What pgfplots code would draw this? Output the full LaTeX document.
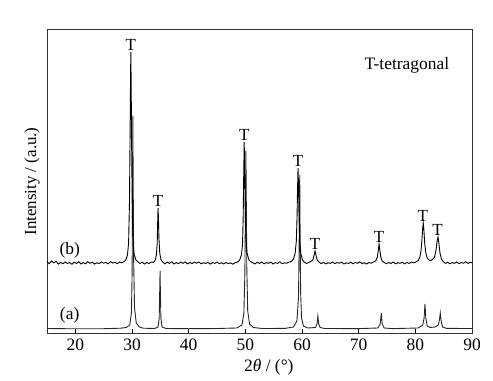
\documentclass[border=0pt]{standalone}
\usepackage{fontspec}
\setmainfont{Liberation Serif}
\usepackage{pgfplots}
\pgfplotsset{compat=1.18}
\begin{document}
\fontsize{17.5}{20}\selectfont
\begin{tikzpicture}
\begin{axis}[
  at={(0,0)}, anchor=south west,
  width=425bp, height=303bp, scale only axis,
  xmin=15, xmax=90, ymin=0, ymax=303,
  xtick={20,30,40,50,60,70,80,90},
  ytick=\empty,
  tick pos=bottom, tick align=inside,
  major tick length=4bp,
  tick style={black, line width=0.8pt},
  axis line style={line width=1pt, black!80},
  /pgf/number format/assume math mode=true,
  ticklabel style={font=\fontsize{17.5}{20}\selectfont},
  xlabel={2\textit{θ} / (°)},
  ylabel={Intensity / (a.u.)},
  xlabel style={at={(axis description cs:0.522,-0.112)}, anchor=center, font=\fontsize{17.5}{20}\selectfont},
  ylabel style={at={(axis description cs:-0.035,0.5)}, anchor=center, font=\fontsize{17}{20}\selectfont},
  clip=false,
]
% (a)
\addplot[black!85, line width=0.9pt] coordinates {
(15,4.5) (20,4.2) (25,4.3) (28,4.8) (29,5.5) (29.6,8) (29.9,20) (30.02,60) (30.1,150) (30.15,217) (30.2,160) (30.3,70) (30.45,25) (30.75,10) (31.3,6) (32,4.8)
(34.0,4.5) (34.6,6) (34.8,15) (34.9,45) (34.95,62) (35.0,45) (35.1,15) (35.3,6) (36,4.5) (40,4.3) (45,4.5)
(48.5,5) (49.4,8) (49.75,20) (49.92,60) (50.02,130) (50.1,182) (50.16,140) (50.26,65) (50.42,22) (50.75,9) (51.4,5.5) (53,4.5) (57,4.6)
(58.5,6) (59.1,12) (59.38,35) (59.5,90) (59.6,158) (59.66,105) (59.76,40) (59.92,15) (60.25,7) (61,5)
(62.4,5.5) (62.65,9) (62.8,17) (62.95,9) (63.2,5.5) (64,4.5) (70,4.4)
(73.4,5) (73.8,9) (74.0,20) (74.15,9) (74.5,5) (76,4.4)
(80.5,5) (81.3,8) (81.55,15) (81.7,29) (81.85,15) (82.1,7) (82.6,5.5) (83.5,6) (84.05,8) (84.25,13) (84.4,20) (84.55,12) (84.8,6) (85.5,4.6) (90,4.5)
};
% (b)
\addplot[black, line width=0.9pt] coordinates {
(15.0,71.5) (15.4,69.2) (15.8,72.0) (16.2,70.1) (16.6,71.8) (17.0,68.9) (17.4,70.6) (17.8,69.3) (18.2,71.0) (18.6,69.6)
(19.0,70.4) (19.4,68.8) (19.8,70.9) (20.2,69.5) (20.6,71.2) (21.0,69.0) (21.4,70.5) (21.8,69.2) (22.2,71.3) (22.6,69.7)
(23.0,70.8) (23.4,68.9) (23.8,70.3) (24.2,69.4) (24.6,71.1) (25.0,69.8) (25.4,70.6) (25.8,69.1) (26.2,71.4) (26.6,69.9)
(27.0,70.7) (27.4,69.3) (27.8,71.0) (28.2,70.2) (28.6,71.5)
(28.9,73) (29.2,78) (29.4,90) (29.55,130) (29.65,190) (29.75,260) (29.8,281) (29.85,250) (29.95,180) (30.05,120) (30.2,88) (30.4,78) (30.7,73) (31.0,71.2)
(31.4,69.5) (31.8,70.8) (32.2,69.0) (32.6,70.6) (33.0,69.4) (33.4,71.0) (33.8,70.5)
(34.1,73) (34.3,78) (34.45,90) (34.55,115) (34.6,125) (34.65,118) (34.75,95) (34.9,80) (35.1,73.5) (35.4,71)
(35.8,69.2) (36.2,70.9) (36.6,69.6) (37.0,71.2) (37.4,69.0) (37.8,70.4) (38.2,69.3) (38.6,70.8) (39.0,69.7) (39.4,71.1)
(39.8,69.1) (40.2,70.5) (40.6,69.4) (41.0,70.9) (41.4,69.8) (41.8,71.0) (42.2,69.2) (42.6,70.3) (43.0,69.5) (43.4,70.8)
(43.8,68.9) (44.2,70.4) (44.6,69.6) (45.0,71.0) (45.4,69.3) (45.8,70.2) (46.2,69.0) (46.6,70.6) (47.0,69.4) (47.4,70.1)
(47.8,68.8) (48.2,70.3) (48.6,70.8)
(49.0,73) (49.3,78) (49.5,88) (49.62,115) (49.72,160) (49.8,191) (49.88,165) (49.98,125) (50.1,95) (50.3,80) (50.6,73.5) (50.9,71.5)
(51.3,70.2) (51.7,69.1) (52.1,70.7) (52.5,69.5) (52.9,71.0) (53.3,69.2) (53.7,70.4) (54.1,69.7) (54.5,70.9) (54.9,69.0)
(55.3,70.5) (55.7,69.6) (56.1,71.2) (56.5,69.3) (56.9,70.1) (57.3,69.8) (57.7,70.8) (58.1,71.5)
(58.5,74) (58.8,80) (59.0,92) (59.12,115) (59.22,145) (59.3,165) (59.38,148) (59.48,115) (59.6,92) (59.8,79) (60.1,73) (60.4,71)
(60.8,69.5) (61.2,70.6) (61.6,71.5)
(61.9,73) (62.1,77) (62.3,82) (62.5,77) (62.7,73) (63.0,71)
(63.4,69.4) (63.8,70.7) (64.2,69.1) (64.6,70.3) (65.0,69.6) (65.4,71.0) (65.8,69.3) (66.2,70.5) (66.6,69.8) (67.0,70.9)
(67.4,69.0) (67.8,70.2) (68.2,69.5) (68.6,70.8) (69.0,69.2) (69.4,70.6) (69.8,69.7) (70.2,71.1) (70.6,69.4) (71.0,70.3)
(71.4,69.0) (71.8,70.5) (72.2,69.8) (72.6,70.9) (73.0,72.0)
(73.3,76) (73.45,82) (73.6,89) (73.75,82) (73.9,76) (74.15,72) (74.5,70.5)
(74.9,69.3) (75.3,70.6) (75.7,69.5) (76.1,71.0) (76.5,69.2) (76.9,70.4) (77.3,69.7) (77.7,70.8) (78.1,69.1) (78.5,70.5)
(78.9,69.6) (79.3,70.9) (79.7,70.2) (80.1,71.0) (80.5,72.5)
(80.8,76) (81.0,82) (81.15,92) (81.3,105) (81.4,110) (81.5,104) (81.65,90) (81.85,80) (82.1,75) (82.4,73) (82.7,72.5) (83.0,73.5)
(83.4,76) (83.65,83) (83.85,92) (84.0,96) (84.15,90) (84.35,80) (84.6,74) (84.9,71.5)
(85.3,69.6) (85.7,70.8) (86.1,69.2) (86.5,70.4) (86.9,69.7) (87.3,71.0) (87.7,69.3) (88.1,70.5) (88.5,69.8) (88.9,71.2)
(89.3,69.6) (89.7,70.7) (90.0,70.2)
};
\foreach \px/\py in {29.8/281, 34.6/125, 49.8/191, 59.3/165, 62.3/82, 73.6/89, 81.3/110, 83.9/96}{
  \edef\temp{\noexpand\node[anchor=south, inner sep=1.5bp, font=\noexpand\fontsize{17}{20}\noexpand\selectfont] at (axis cs:\px,\py) {T};}
  \temp
}
\node[font=\fontsize{17.5}{20}\selectfont] at (axis cs:78.5,268) {T-tetragonal};
\node[font=\fontsize{17.5}{20}\selectfont] at (axis cs:19.0,83) {(b)};
\node[font=\fontsize{17.5}{20}\selectfont] at (axis cs:19.0,18) {(a)};
\end{axis}
\path[use as bounding box] (-47bp,-47bp) rectangle (446bp,333bp);
\end{tikzpicture}
\end{document}
